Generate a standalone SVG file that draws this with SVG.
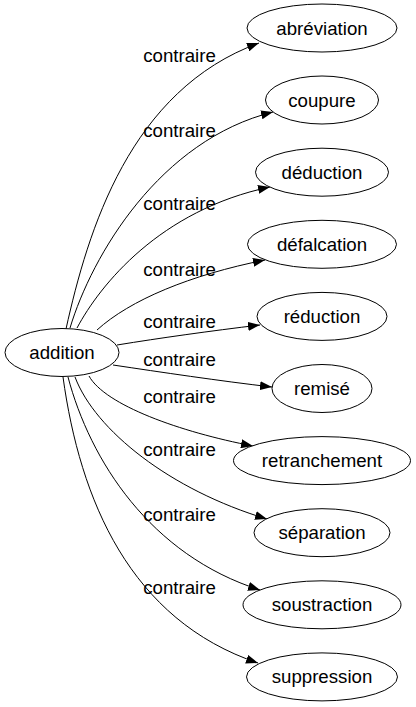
<svg xmlns="http://www.w3.org/2000/svg" width="416" height="707" viewBox="0 0 416 707">
<style>
.n ellipse{fill:#fff;stroke:#000;stroke-width:1}
text{font-family:"Liberation Sans",Arial,sans-serif;font-size:18.67px;fill:#000;text-anchor:middle}
.e path{fill:none;stroke:#000;stroke-width:1}
</style>
<defs>
<marker id="ah" viewBox="0 0 12 9" refX="12" refY="4.5" markerWidth="12" markerHeight="9" markerUnits="userSpaceOnUse" orient="auto"><path d="M0,0 L12,4.5 L0,9 z" fill="#000"/></marker>
</defs>
<rect width="416" height="707" fill="#fff"/>
<g id="edges" class="e">
<path marker-end="url(#ah)" d="M66,329 C88,230 130,90 259,43"/>
<path marker-end="url(#ah)" d="M70,328 C92,255 160,140 273,112"/>
<path marker-end="url(#ah)" d="M77,328 C100,285 160,210 270,187"/>
<path marker-end="url(#ah)" d="M97,330 C130,300 190,275 265,260"/>
<path marker-end="url(#ah)" d="M117,345 C160,338 210,331 260,325"/>
<path marker-end="url(#ah)" d="M113,365 C160,372 220,381 272,387"/>
<path marker-end="url(#ah)" d="M89,376 C105,405 180,432 253,446"/>
<path marker-end="url(#ah)" d="M75,377 C95,430 170,490 267,519"/>
<path marker-end="url(#ah)" d="M68,377 C90,460 150,555 260,590"/>
<path marker-end="url(#ah)" d="M63,377 C80,500 130,620 258,663"/>
<text x="179.5" y="61.7">contraire</text>
<text x="179.5" y="136.7">contraire</text>
<text x="179.5" y="210">contraire</text>
<text x="179.5" y="276">contraire</text>
<text x="179.5" y="328.4">contraire</text>
<text x="179.5" y="366">contraire</text>
<text x="179.5" y="403.4">contraire</text>
<text x="179.5" y="455.7">contraire</text>
<text x="179.5" y="520.7">contraire</text>
<text x="179.5" y="594">contraire</text>
</g>
<g id="addition" class="n"><ellipse cx="62" cy="352.5" rx="57" ry="24"/><text x="62" y="359">addition</text></g>
<g id="abreviation" class="n"><ellipse cx="322" cy="28" rx="75" ry="24"/><text x="322" y="35">abréviation</text></g>
<g id="coupure" class="n"><ellipse cx="322" cy="100" rx="56.5" ry="24"/><text x="322" y="107">coupure</text></g>
<g id="deduction" class="n"><ellipse cx="322" cy="172.2" rx="66.5" ry="24"/><text x="322" y="179">déduction</text></g>
<g id="defalcation" class="n"><ellipse cx="322" cy="244.3" rx="74.5" ry="24"/><text x="322" y="251">défalcation</text></g>
<g id="reduction" class="n"><ellipse cx="322" cy="316.4" rx="65" ry="24"/><text x="322" y="323">réduction</text></g>
<g id="remise" class="n"><ellipse cx="322" cy="388.5" rx="50" ry="24"/><text x="322" y="395">remisé</text></g>
<g id="retranchement" class="n"><ellipse cx="322" cy="460.6" rx="88.5" ry="24"/><text x="322" y="467">retranchement</text></g>
<g id="separation" class="n"><ellipse cx="322" cy="532.7" rx="68" ry="24"/><text x="322" y="539">séparation</text></g>
<g id="soustraction" class="n"><ellipse cx="322" cy="604.8" rx="79" ry="24"/><text x="322" y="611">soustraction</text></g>
<g id="suppression" class="n"><ellipse cx="322" cy="676.9" rx="75.5" ry="24"/><text x="322" y="683">suppression</text></g>
</svg>
